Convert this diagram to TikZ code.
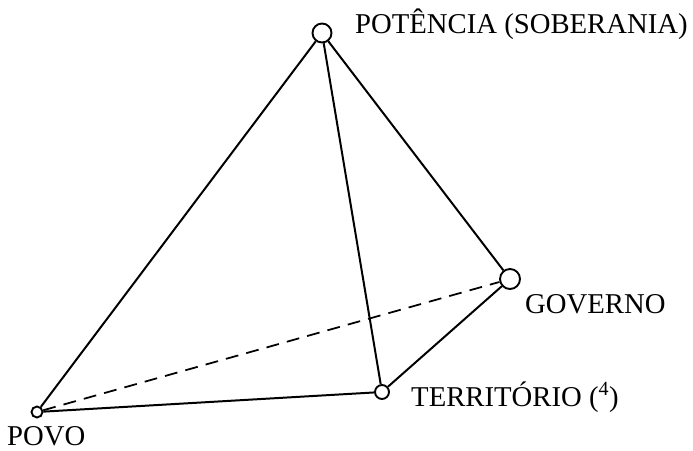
\documentclass[tikz,border=0pt]{standalone}
\usepackage{fontspec}
\setmainfont{Liberation Serif}

\begin{document}
\begin{tikzpicture}[x=0.03cm, y=-0.03cm,
    vertice/.style={draw, circle, line width=1.6pt, fill=white, inner sep=0pt},
    aresta/.style={line width=1.7pt},
    rotulo/.style={font=\fontsize{24.5}{24.5}\selectfont, inner sep=0pt, anchor=base west}]
  \useasboundingbox (0,0) rectangle (693,451);

  % vertices of the tetrahedron
  \node[vertice, minimum size=19*0.03cm] (potencia) at (322,33) {};
  \node[vertice, minimum size=20*0.03cm] (governo) at (510,279) {};
  \node[vertice, minimum size=14*0.03cm] (territorio) at (382,392) {};
  \node[vertice, minimum size=11*0.03cm] (povo) at (37,412) {};

  % labels next to each vertex
  \node[rotulo] (lpot) at (355,34) {POTÊNCIA (SOBERANIA)};
  \node[rotulo] (lgov) at (525,313) {GOVERNO};
  \node[rotulo] (lter) at (411,406) {TERRITÓRIO (\textsuperscript{4})};
  \node[rotulo] (lpov) at (7,445) {POVO};

  % edges
  \draw[aresta] (potencia) -- (povo);
  \draw[aresta] (potencia) -- (territorio);
  \draw[aresta] (potencia) -- (governo);
  \draw[aresta] (povo) -- (territorio);
  \draw[aresta] (territorio) -- (governo);
  \draw[aresta, line width=1.5pt, dash pattern=on 11pt off 7pt] (povo) -- (governo);
\end{tikzpicture}
\end{document}
